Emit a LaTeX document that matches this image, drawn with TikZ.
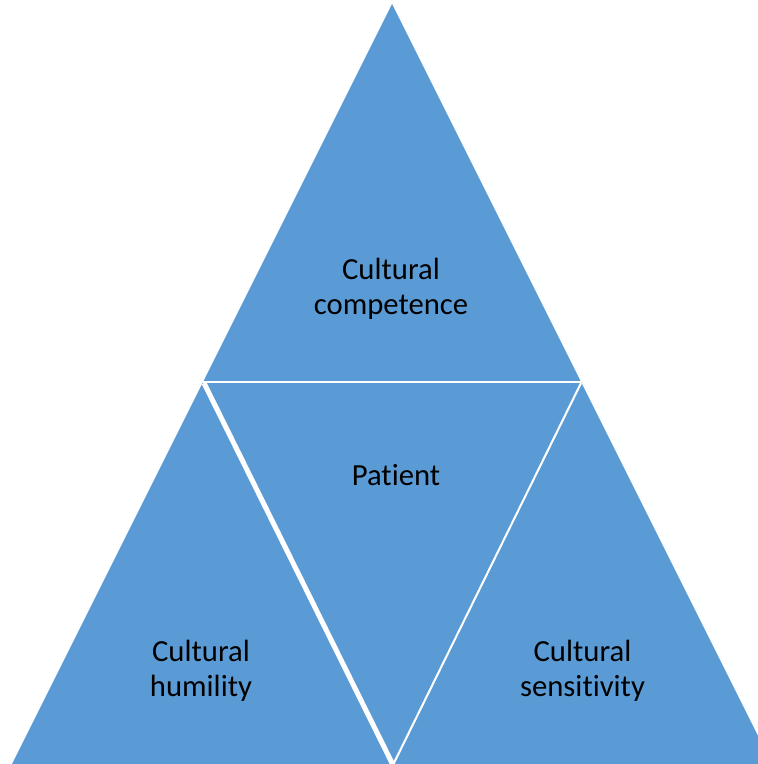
\documentclass[tikz,border=0pt]{standalone}
\usepackage{fontspec}
\setmainfont{Carlito}[Ligatures={NoCommon,NoRare,NoContextual}]
\begin{document}
\begin{tikzpicture}[x=1pt,y=-1pt,
  piece/.style={fill=tribl, draw=none},
  seam/.style={draw=white, line cap=butt},
  label/.style={text=black, align=center, inner sep=0pt,
    font=\fontsize{30.7}{34.5}\selectfont}]
\definecolor{tribl}{HTML}{5B9BD5}
\useasboundingbox (0,0) rectangle (758,764);
\clip (0,0) rectangle (758,764);

% corner points
\coordinate (apex) at (392,4);
\coordinate (ml) at (202,384);
\coordinate (mr) at (582,384);
\coordinate (bl) at (10,768);
\coordinate (bm) at (392,764);
\coordinate (bml) at (394,768);
\coordinate (bmr) at (390,768);
\coordinate (br) at (774,768);

% the four triangles
\fill[piece] (apex) -- (ml) -- (mr) -- cycle;
\fill[piece] (ml) -- (bl) -- (bml) -- cycle;
\fill[piece] (mr) -- (bmr) -- (br) -- cycle;
\fill[piece] (ml) -- (mr) -- (bm) -- cycle;

% white seams between the triangles
\coordinate (sl) at (203,382);
\coordinate (sr) at (581,382);
\coordinate (tl) at (204,383);
\coordinate (tr) at (581,383);
\coordinate (tb) at (393,765);
\draw[seam, line width=2.5] (sl) -- (sr);
\draw[seam, line width=5] (tl) -- (tb);
\draw[seam, line width=2] (tr) -- (tb);

% labels
\node[label] (comp) at (391,289) {Cultural\\competence};
\node[label, anchor=base] (pat) at (396,485) {Patient};
\node[label] (hum) at (201,671) {Cultural\\humility};
\node[label] (sens) at (582.5,671) {Cultural\\sensitivity};
\end{tikzpicture}
\end{document}
